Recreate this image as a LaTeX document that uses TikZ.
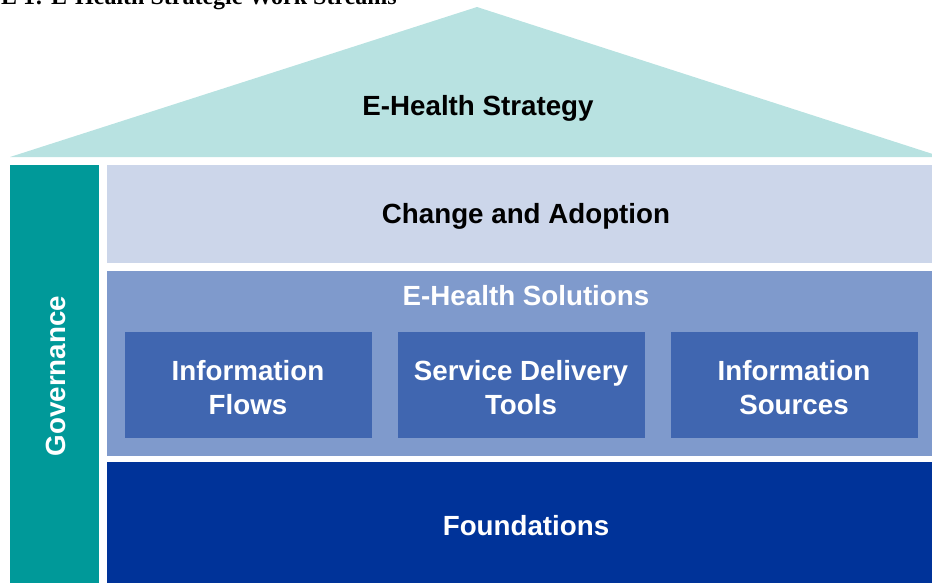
\documentclass[tikz,border=0pt]{standalone}
\usepackage{fontspec}
\setmainfont{Liberation Sans}
\newfontfamily\capfont{Liberation Serif}
\usepackage{tikz}

\definecolor{roofcol}{RGB}{184,226,225}
\definecolor{govcol}{RGB}{0,153,153}
\definecolor{changecol}{RGB}{204,214,234}
\definecolor{solcol}{RGB}{127,154,204}
\definecolor{subcol}{RGB}{64,102,176}
\definecolor{foundcol}{RGB}{0,51,153}

\tikzset{
  bigtext/.style={font=\fontsize{20.8}{25.5}\selectfont\bfseries, align=center, inner sep=0pt},
  whitetext/.style={bigtext, text=white}
}

\begin{document}
\begin{tikzpicture}[x=0.75pt,y=-0.75pt]

	\useasboundingbox (0,0) rectangle (932,583);
	\clip (0,0) rectangle (932,583);

	% caption, cut off at the top
	\node[anchor=base east, inner sep=0pt, font=\capfont\fontsize{18}{20}\selectfont\bfseries] (caption) at (397,4) {TABLE 1: E-Health Strategic Work Streams};

	% roof
	\fill[roofcol] (10,157) -- (477,7) -- (942,157) -- cycle;
	\node[bigtext] (strategy) at (478,108) {E-Health Strategy};

	% governance pillar
	\fill[govcol] (10,165) rectangle (99,583);
	\node[whitetext, rotate=90] (governance) at (56,376) {Governance};

	% layers
	\fill[changecol] (107,165) rectangle (932,263);
	\node[bigtext] (change) at (526,216) {Change and Adoption};

	\fill[solcol] (107,271) rectangle (932,456);
	\node[whitetext] (solutions) at (526,296) {E-Health Solutions};

	\fill[subcol] (125,332) rectangle (372,438);
	\fill[subcol] (398,332) rectangle (645,438);
	\fill[subcol] (671,332) rectangle (918,438);
	\node[whitetext] (flows) at (248,388) {Information\\Flows};
	\node[whitetext] (tools) at (521,388) {Service Delivery\\Tools};
	\node[whitetext] (sources) at (794,388) {Information\\Sources};

	\fill[foundcol] (107,462) rectangle (932,583);
	\node[whitetext] (foundations) at (526,526) {Foundations};

\end{tikzpicture}
\end{document}
